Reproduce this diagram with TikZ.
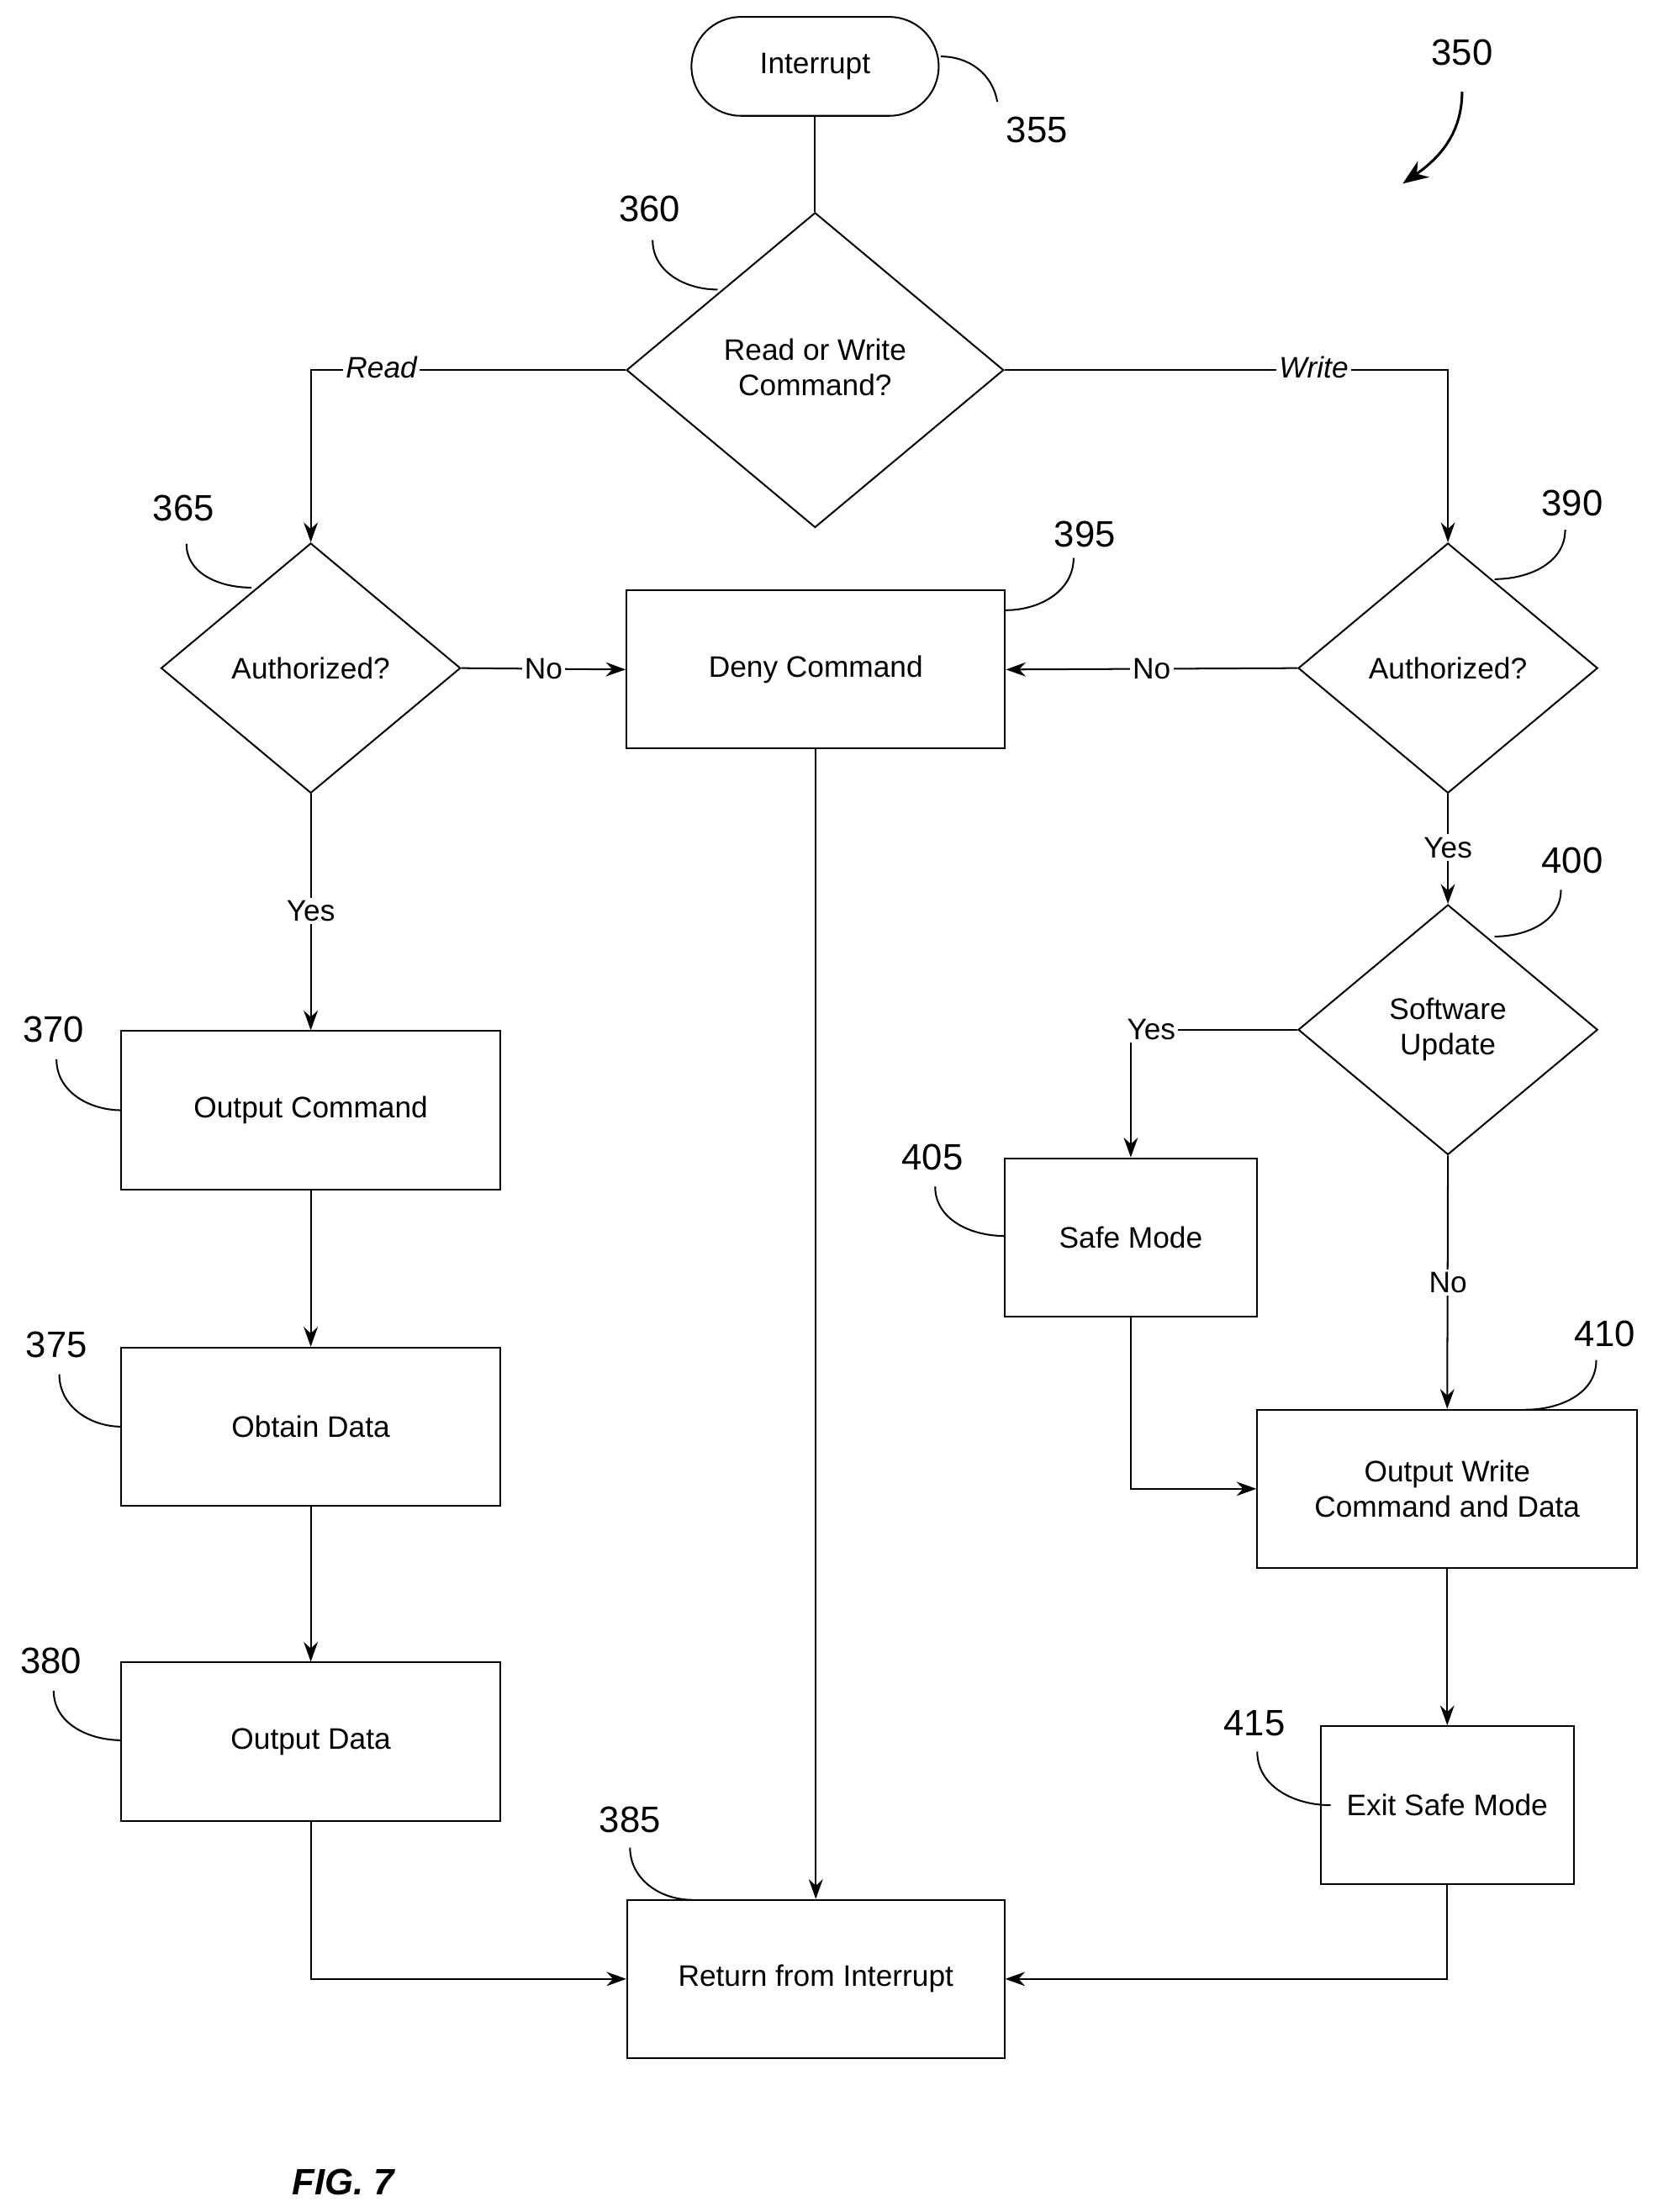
\documentclass[tikz,border=0pt]{standalone}
\usepackage{fontspec}
\setmainfont{Liberation Sans}
\usetikzlibrary{shapes.geometric,arrows.meta}
\begin{document}
\begin{tikzpicture}[x=0.5pt,y=-0.5pt,
  every node/.style={font=\fontsize{10.5}{12.5}\selectfont},
  box/.style={draw,line width=0.6pt,inner sep=0,align=center},
  dia/.style={draw,diamond,line width=0.6pt,inner sep=0,minimum width=106pt,minimum height=88.5pt},
  ln/.style={line width=0.6pt},
  ar/.style={line width=0.6pt,-{Stealth[length=7pt,width=5pt]}},
  lab/.style={fill=white,inner sep=1pt},
  num/.style={font=\fontsize{13}{15}\selectfont},
  lead/.style={line width=0.6pt}]
\useasboundingbox (0,0) rectangle (1170,1566);
\node[box,rounded corners=17.5pt,minimum width=87.5pt,minimum height=35pt] (term) at (577,47) {Interrupt};
\node[dia,minimum width=133.5pt,minimum height=111.5pt] (d360) at (577,262) {};
\node[align=center] at (577,260) {Read or Write\\Command?};
\node[dia] (d365) at (220,473) {};
\node at (220,473) {Authorized?};
\node[dia] (d390) at (1025,473) {};
\node at (1025,473) {Authorized?};
\node[dia] (d400) at (1025,729) {};
\node[align=center] at (1025,729) {Software\\Update};
\node[box,minimum width=134pt,minimum height=56pt] (deny) at (577.5,474) {Deny Command};
\node[box,minimum width=134pt,minimum height=56pt] (outcmd) at (220,786) {Output Command};
\node[box,minimum width=134pt,minimum height=56pt] (obtain) at (220,1010) {Obtain Data};
\node[box,minimum width=134pt,minimum height=56pt] (outdata) at (220,1233) {Output Data};
\node[box,minimum width=133.5pt,minimum height=56pt] (ret) at (577.5,1401) {Return from Interrupt};
\node[box,minimum width=89.5pt,minimum height=56pt] (safe) at (800.5,876) {Safe Mode};
\node[box,minimum width=134.5pt,minimum height=56pt] (outw) at (1024.5,1054) {Output Write\\Command and Data};
\node[box,minimum width=89.5pt,minimum height=56pt] (exit) at (1024.5,1278) {Exit Safe Mode};

\draw[ln] (term.south) -- (d360.north);
\draw[ar] (d360.west) -| (d365.north);
\node[lab] at (270,260) {\itshape Read};
\draw[ar] (d360.east) -| (d390.north);
\node[lab] at (930,260) {\itshape Write};
\draw[ar] (d365.east) -- node[lab]{No} (deny.west);
\draw[ar] (d390.west) -- node[lab]{No} (deny.east);
\draw[ar] (d365.south) -- (outcmd.north);
\node[lab] at (220,645) {Yes};
\draw[ar] (d390.south) -- (d400.north);
\node[lab] at (1025,600) {Yes};
\draw[ar] (d400.west) -| (safe.north);
\node[lab] at (815,729) {Yes};
\draw[ar] (d400.south) -- (outw.north);
\node[lab] at (1025,908) {No};
\draw[ar] (safe.south) |- (outw.west);
\draw[ar] (outw.south) -- (exit.north);
\draw[ar] (exit.south) |- (ret.east);
\draw[ar] (outdata.south) |- (ret.west);
\draw[ar] (deny.south) -- (ret.north);
\draw[ar] (outcmd.south) -- (obtain.north);
\draw[ar] (obtain.south) -- (outdata.north);

\node[num] at (734,92) {355};
\draw[lead] (666,40) to[out=0,in=100] (706,72);
\node[num] at (460,148) {360};
\draw[lead] (462,170) to[out=-90,in=180] (508,205);
\node[num] at (130,360) {365};
\draw[lead] (132,385) to[out=-90,in=180] (178,416);
\node[num] at (768,378) {395};
\draw[lead] (760,395) to[out=-90,in=0] (712,432);
\node[num] at (1113,356) {390};
\draw[lead] (1108,375) to[out=-90,in=0] (1058,410);
\node[num] at (1113,609) {400};
\draw[lead] (1105,630) to[out=-90,in=0] (1058,663);
\node[num] at (38,729) {370};
\draw[lead] (40,750) to[out=-90,in=180] (86,786);
\node[num] at (40,952) {375};
\draw[lead] (42,973) to[out=-90,in=180] (86,1010);
\node[num] at (36,1176) {380};
\draw[lead] (38,1197) to[out=-90,in=180] (86,1232);
\node[num] at (446,1288) {385};
\draw[lead] (446,1308) to[out=-90,in=180] (490,1345);
\node[num] at (660,819) {405};
\draw[lead] (662,840) to[out=-90,in=180] (711,875);
\node[num] at (1136,944) {410};
\draw[lead] (1130,963) to[out=-90,in=0] (1080,998);
\node[num] at (888,1220) {415};
\draw[lead] (890,1240) to[out=-90,in=180] (942,1278);
\node[num] at (1035,37) {350};
\coordinate (a1) at (1035,65);
\coordinate (a2) at (993,130);
\draw[line width=0.9pt,-{Stealth[length=9pt,width=7pt]}] (a1) to[out=-90,in=35] (a2);
\node[font=\fontsize{13}{15}\selectfont\bfseries\itshape] at (243,1545) {FIG. 7};
\end{tikzpicture}
\end{document}
